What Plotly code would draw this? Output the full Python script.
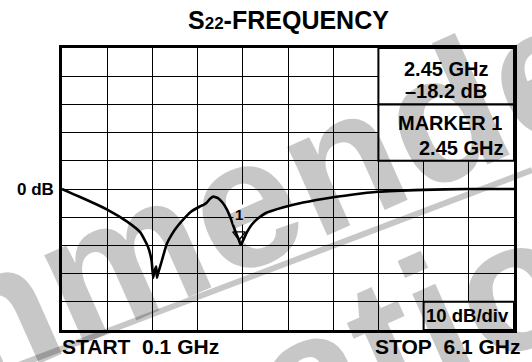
import plotly.graph_objects as go

# Sweep settings (network analyzer display)
x_start_ghz = 0.1
x_stop_ghz = 6.1
ref_db = 0
db_per_div = 10
n_div = 10

# S22 trace, frequency in GHz and magnitude in dB
freq_ghz = [0.10, 0.25, 0.43, 0.70, 0.96, 1.14, 1.24, 1.29, 1.31, 1.33, 1.35,
            1.36, 1.38, 1.43, 1.49, 1.56, 1.63, 1.72, 1.80, 1.93, 1.98, 2.02,
            2.06, 2.11, 2.17, 2.23, 2.29, 2.34, 2.38, 2.42, 2.45, 2.47, 2.50,
            2.55, 2.62, 2.70, 2.80, 3.03, 3.30, 3.70, 3.92, 4.29, 4.89, 5.48,
            6.10]
s22_db = [0.0, -1.8, -3.9, -7.3, -11.5, -15.4, -20.4, -25.5, -31.5, -29.0,
          -27.5, -31.5, -29.5, -25.0, -19.5, -16.0, -13.3, -10.5, -8.3, -6.2,
          -5.6, -4.9, -3.6, -2.7, -3.2, -4.8, -7.3, -10.5, -13.5, -16.3, -18.2,
          -19.8, -18.5, -15.6, -12.6, -10.5, -8.6, -6.6, -4.8, -2.9, -2.1,
          -1.0, -0.3, 0.0, 0.0]

# Marker 1
marker_ghz = 2.45
marker_db = -18.2

div_ghz = (x_stop_ghz - x_start_ghz) / n_div
y_top = ref_db + db_per_div * n_div / 2
y_bot = ref_db - db_per_div * n_div / 2

FONT = "Liberation Sans, Arial, Helvetica, sans-serif"
WM = "rgba(0,0,0,0.22)"

fig = go.Figure()
fig.add_trace(go.Scatter(
    x=freq_ghz, y=s22_db, mode="lines",
    line=dict(color="black", width=2.6, shape="spline", smoothing=0.4),
    hoverinfo="skip", showlegend=False,
))

# Marker 1 symbol, drawn just above the trace point so its tip rests on it
tip_lift_db = 2.0
fig.add_trace(go.Scatter(
    x=[marker_ghz], y=[marker_db + tip_lift_db], mode="markers",
    marker=dict(symbol="triangle-down-open", size=11, color="black",
                line=dict(color="black", width=1.3)),
    hoverinfo="skip", showlegend=False,
))

axis_common = dict(
    showticklabels=False, ticks="", showgrid=True, gridcolor="black",
    gridwidth=1.4, zeroline=False, showline=True, linecolor="black",
    linewidth=3, mirror=True, fixedrange=True,
)
fig.update_xaxes(range=[x_start_ghz, x_stop_ghz], tick0=x_start_ghz,
                 dtick=div_ghz, **axis_common)
fig.update_yaxes(range=[y_bot, y_top], tick0=y_bot, dtick=db_per_div,
                 **axis_common)

# Readout boxes
box_x0 = x_start_ghz + 7 * div_ghz
shapes = [
    dict(type="rect", xref="x", yref="y", x0=box_x0, x1=x_stop_ghz,
         y0=y_top - 2 * db_per_div, y1=y_top,
         fillcolor="white", line=dict(color="black", width=2), layer="above"),
    dict(type="rect", xref="x", yref="y", x0=box_x0, x1=x_stop_ghz,
         y0=y_top - 4 * db_per_div, y1=y_top - 2 * db_per_div,
         fillcolor="white", line=dict(color="black", width=2), layer="above"),
    dict(type="rect", xref="x", yref="y", x0=x_start_ghz + 8 * div_ghz,
         x1=x_stop_ghz, y0=y_bot, y1=y_bot + db_per_div,
         fillcolor="white", line=dict(color="black", width=2), layer="above"),
    # watermark stripe
    dict(type="line", xref="paper", yref="paper", x0=-0.137, y0=-0.149,
         x1=1.04, y1=0.567, line=dict(color=WM, width=6), layer="above"),
]

box_cx = (box_x0 + x_stop_ghz) / 2
ann = []


def text(x, y, s, size=20, xanchor="center", xref="x", yref="y", **kw):
    ann.append(dict(x=x, y=y, xref=xref, yref=yref, text=f"<b>{s}</b>",
                    showarrow=False, xanchor=xanchor, yanchor="middle",
                    font=dict(family=FONT, size=size, color="black"), **kw))


text(box_cx, 42.6, f"{marker_ghz:.2f} GHz")
text(box_cx, 34.8, f"\u2013{abs(marker_db):.1f} dB")
text(x_stop_ghz, 23.4, "MARKER 1", xanchor="right", xshift=-10)
text(x_stop_ghz, 14.5, f"{marker_ghz:.2f} GHz", xanchor="right", xshift=-9)
text(x_stop_ghz, y_bot + db_per_div / 2, f"{db_per_div} dB/div", size=18.5,
     xanchor="right", xshift=-3)
text(x_start_ghz, ref_db, f"{ref_db} dB", size=17, xanchor="right", xshift=-6)
text(0, -0.06, "START\u00a0\u00a00.1 GHz", size=21, xanchor="left",
     xref="paper", yref="paper", xshift=-2)
text(1, -0.06, "STOP\u00a0\u00a06.1 GHz", size=21, xanchor="right",
     xref="paper", yref="paper", xshift=9)

# Marker 1 label
ann.append(dict(x=marker_ghz, y=marker_db, xref="x", yref="y", text="<b>1</b>",
                showarrow=False, xanchor="center", yanchor="middle", yshift=26,
                bgcolor="white",
                font=dict(family=FONT, size=15, color="black")))

# Title
ann.append(dict(x=0.5, y=1, xref="paper", yref="paper", yshift=28,
                xanchor="center", yanchor="middle", showarrow=False,
                text='<b>S<span style="font-size:17px">22</span>-FREQUENCY</b>',
                font=dict(family=FONT, size=25, color="black")))

# Watermark
ann.append(dict(x=0.058, y=0.206, xref="paper", yref="paper", showarrow=False,
                text="<b>Recommended</b>", textangle=-24,
                xanchor="center", yanchor="middle",
                font=dict(family=FONT, size=184, color=WM)))
ann.append(dict(x=0.314, y=-0.33, xref="paper", yref="paper", showarrow=False,
                text="<b>Information</b>", textangle=-24,
                xanchor="center", yanchor="middle",
                font=dict(family=FONT, size=184, color=WM)))

fig.update_layout(
    width=532, height=362,
    margin=dict(l=62, r=18, t=48, b=32),
    paper_bgcolor="white", plot_bgcolor="white",
    shapes=shapes, annotations=ann, showlegend=False,
)

fig.write_html("out.html", config={"displayModeBar": False})
